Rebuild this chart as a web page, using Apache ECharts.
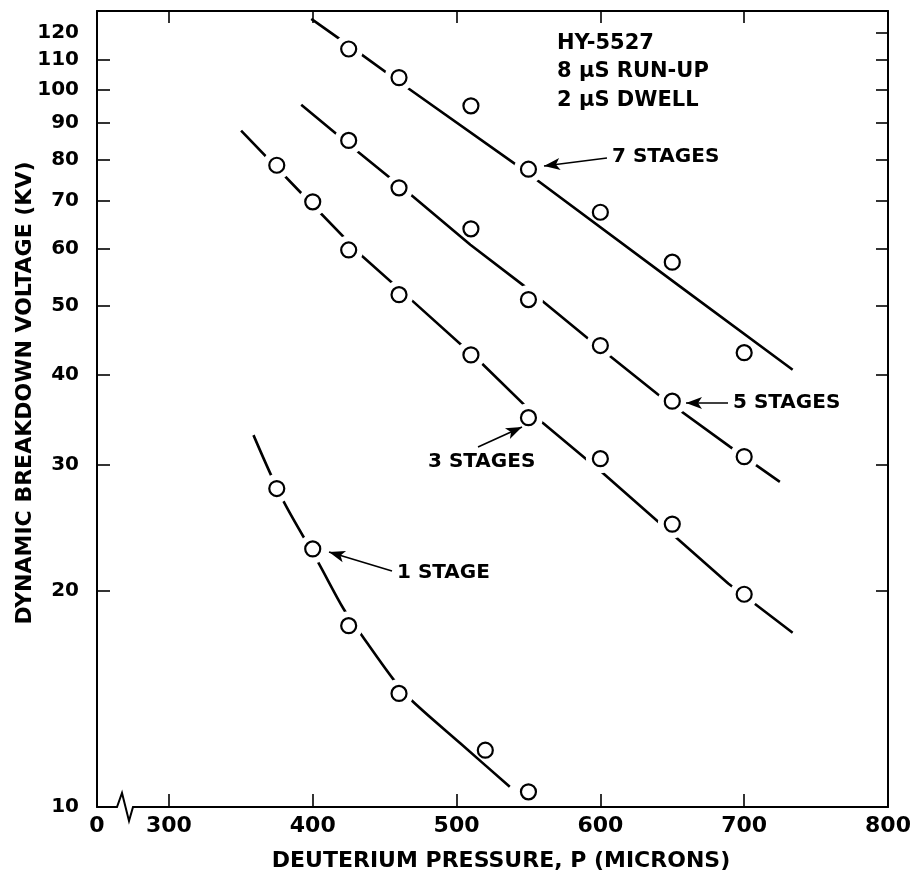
<!DOCTYPE html>
<html>
<head>
<meta charset="utf-8">
<script src="https://cdn.jsdelivr.net/npm/echarts@6/dist/echarts.min.js"></script>
<style>html,body{margin:0;padding:0;background:#fff}#c{width:915px;height:875px}</style>
</head>
<body>
<div id="c"></div>
<script>
// ---- data ----
const xTickLabels = [250, 300, 400, 500, 600, 700, 800];   // 250 is the broken-axis origin, shown as "0"
const xTicks = [300, 400, 500, 600, 700];
const yTickLabels = [10, 20, 30, 40, 50, 60, 70, 80, 90, 100, 110, 120];
const yTicksLeft = [20, 30, 40, 50, 60, 70, 80, 90, 100, 110];
const yTicksRight = [20, 30, 40, 50, 60, 70, 80, 90, 100, 110, 120];

const p7 = [425, 460, 510, 550, 600, 650, 700];
const v7 = [114, 104, 95, 77.5, 67.5, 57.5, 43];
const p5 = [425, 460, 510, 550, 600, 650, 700];
const v5 = [85, 73, 64, 51, 44, 36.8, 30.8];
const p3 = [375, 400, 425, 460, 510, 550, 600, 650, 700];
const v3 = [78.5, 69.8, 59.8, 51.8, 42.7, 34.9, 30.6, 24.8, 19.8];
const p1 = [375, 400, 425, 460, 520, 550];
const v1 = [27.8, 22.9, 17.9, 14.4, 12.0, 10.5];

// hand-drawn fitted curves
const fit7 = [[399, 125.6], [432.6, 112.5], [465.1, 100.9], [541.6, 78.6], [655.3, 53.2], [733.7, 40.7]];
const fit5 = [[392, 95.3], [431.4, 82.0], [469.7, 71.0], [509.6, 60.8], [547.4, 53.2], [591.4, 45.0], [640.1, 37.6], [690, 31.8], [724.8, 28.4]];
const fit3 = [[350.2, 87.7], [393.1, 71.4], [434.9, 58.5], [469.7, 50.7], [517.3, 41.6], [560.1, 34.3], [601.9, 29.2], [656.4, 23.4], [688.9, 20.5], [733.7, 17.5]];
const fit1 = [[358.8, 33.0], [379.2, 26.8], [404, 21.9], [421.4, 18.9], [433.7, 17.4], [455.7, 15.1], [468.5, 14.1], [502.6, 12.27], [537, 10.67]];

const FONT = 'DejaVu Sans';
const zip = (a, b) => a.map((x, i) => [x, b[i]]);
const allPts = [].concat(zip(p7, v7), zip(p5, v5), zip(p3, v3), zip(p1, v1));

const chart = echarts.init(document.getElementById('c'), null, {renderer: 'canvas'});

function fitSeries(id, data, smooth) {
  return {
    id: id, type: 'line', data: data, smooth: smooth || false,
    showSymbol: false, symbol: 'none', z: 2, silent: true,
    lineStyle: {color: '#000', width: 2.6}
  };
}
function arrow(from, to) {
  return [{x: from[0], y: from[1], symbol: 'none'}, {x: to[0], y: to[1], symbol: 'arrow'}];
}
const txt = (s, size) => ({text: s, fontFamily: FONT, fontWeight: 'bold', fontSize: size, fill: '#000'});

const option = {
  animation: false,
  backgroundColor: '#fff',
  grid: {left: 97, right: 27, top: 11, bottom: 68, containLabel: false, outerBoundsMode: 'none'},
  xAxis: [{
    type: 'value', position: 'bottom', min: 250, max: 800,
    name: 'DEUTERIUM PRESSURE, P (MICRONS)', nameLocation: 'middle', nameGap: 43, nameMoveOverlap: false,
    nameTextStyle: {fontFamily: FONT, fontWeight: 'bold', fontSize: 22, color: '#000', padding: [0, 0, 0, 17]},
    axisLine: {show: true, onZero: false, lineStyle: {color: '#000', width: 2}},
    axisTick: {show: true, inside: true, length: 13, customValues: xTicks, lineStyle: {color: '#000', width: 1.6}},
    axisLabel: {show: true, customValues: xTickLabels, margin: 8, fontFamily: FONT, fontWeight: 'bold', fontSize: 22, color: '#000',
      formatter: v => (v === 250 ? '0' : String(v))},
    splitLine: {show: false}
  }, {
    type: 'value', position: 'top', min: 250, max: 800,
    axisLine: {show: true, onZero: false, lineStyle: {color: '#000', width: 2}},
    axisTick: {show: true, inside: true, length: 12, customValues: xTicks, lineStyle: {color: '#000', width: 1.6}},
    axisLabel: {show: false}, splitLine: {show: false}
  }],
  yAxis: [{
    type: 'log', logBase: 10, position: 'left', min: 10, max: 128.8,
    name: 'DYNAMIC BREAKDOWN VOLTAGE (KV)', nameLocation: 'middle', nameGap: 61, nameRotate: 90, nameMoveOverlap: false,
    nameTextStyle: {fontFamily: FONT, fontWeight: 'bold', fontSize: 22, color: '#000', padding: [0, 0, 0, 32]},
    axisLine: {show: true, onZero: false, lineStyle: {color: '#000', width: 2}},
    axisTick: {show: true, inside: true, length: 13, customValues: yTicksLeft, lineStyle: {color: '#000', width: 1.6}},
    axisLabel: {show: true, customValues: yTickLabels, margin: 18, fontFamily: FONT, fontWeight: 'bold', fontSize: 20, color: '#000'},
    splitLine: {show: false}
  }, {
    type: 'log', logBase: 10, position: 'right', min: 10, max: 128.8,
    axisLine: {show: true, onZero: false, lineStyle: {color: '#000', width: 2}},
    axisTick: {show: true, inside: true, length: 12, customValues: yTicksRight, lineStyle: {color: '#000', width: 1.6}},
    axisLabel: {show: false}, splitLine: {show: false}
  }],
  series: [
    fitSeries('f7', fit7),
    fitSeries('f5', fit5),
    fitSeries('f3', fit3),
    fitSeries('f1', fit1, 0.3),
    {
      id: 'halo', type: 'scatter', data: [], symbol: 'circle', symbolSize: 29, z: 3, silent: true,
      itemStyle: {color: '#fff', borderWidth: 0, opacity: 1}
    },
    {
      id: 'pts', type: 'scatter', data: allPts, symbol: 'circle', symbolSize: 15, z: 4, silent: true,
      itemStyle: {color: '#fff', borderColor: '#000', borderWidth: 2.2, opacity: 1},
      markLine: {
        silent: true, animation: false, symbolSize: [9, 16],
        lineStyle: {color: '#000', width: 1.6, type: 'solid'},
        label: {show: false},
        data: [
          arrow([607, 158], [544, 166]),
          arrow([728, 403], [686, 403]),
          arrow([478, 447], [522, 427]),
          arrow([392, 571], [329, 552])
        ]
      }
    }
  ],
  graphic: [
    {type: 'text', left: 557, top: 29, z: 10, silent: true,
      style: Object.assign(txt('HY-5527\n8 µS RUN-UP\n2 µS DWELL', 21), {lineHeight: 28.5})},
    {type: 'text', x: 612, y: 157, z: 10, silent: true, style: Object.assign(txt('7 STAGES', 20), {verticalAlign: 'middle'})},
    {type: 'text', x: 733, y: 403, z: 10, silent: true, style: Object.assign(txt('5 STAGES', 20), {verticalAlign: 'middle'})},
    {type: 'text', x: 428, y: 462, z: 10, silent: true, style: Object.assign(txt('3 STAGES', 20), {verticalAlign: 'middle'})},
    {type: 'text', x: 397, y: 573, z: 10, silent: true, style: Object.assign(txt('1 STAGE', 20), {verticalAlign: 'middle'})},
    // axis break mark
    {type: 'rect', z: 20, silent: true, shape: {x: 116, y: 804, width: 18, height: 6}, style: {fill: '#fff'}},
    {type: 'polyline', z: 21, silent: true,
      shape: {points: [[112, 807], [117, 807], [122, 793], [129, 821], [133, 807], [138, 807]]},
      style: {stroke: '#000', lineWidth: 2, fill: null}}
  ]
};
chart.setOption(option);

// leave a white gap in a fitted curve where it runs through its own data circle
function segDist(p, a, b) {
  const dx = b[0] - a[0], dy = b[1] - a[1];
  const L = dx * dx + dy * dy;
  let t = L ? ((p[0] - a[0]) * dx + (p[1] - a[1]) * dy) / L : 0;
  t = Math.max(0, Math.min(1, t));
  const qx = a[0] + t * dx, qy = a[1] + t * dy;
  return Math.hypot(p[0] - qx, p[1] - qy);
}
const groups = [[p7, v7, fit7], [p5, v5, fit5], [p3, v3, fit3], [p1, v1, fit1]];
const haloPts = [];
groups.forEach(([xs, ys, fit]) => {
  const line = fit.map(d => chart.convertToPixel({seriesIndex: 0}, d));
  xs.forEach((x, i) => {
    const pt = chart.convertToPixel({seriesIndex: 0}, [x, ys[i]]);
    let m = Infinity;
    for (let k = 0; k < line.length - 1; k++) m = Math.min(m, segDist(pt, line[k], line[k + 1]));
    if (m < 10) haloPts.push([x, ys[i]]);
  });
});
chart.setOption({series: [{id: 'halo', data: haloPts}]});
</script>
</body>
</html>
